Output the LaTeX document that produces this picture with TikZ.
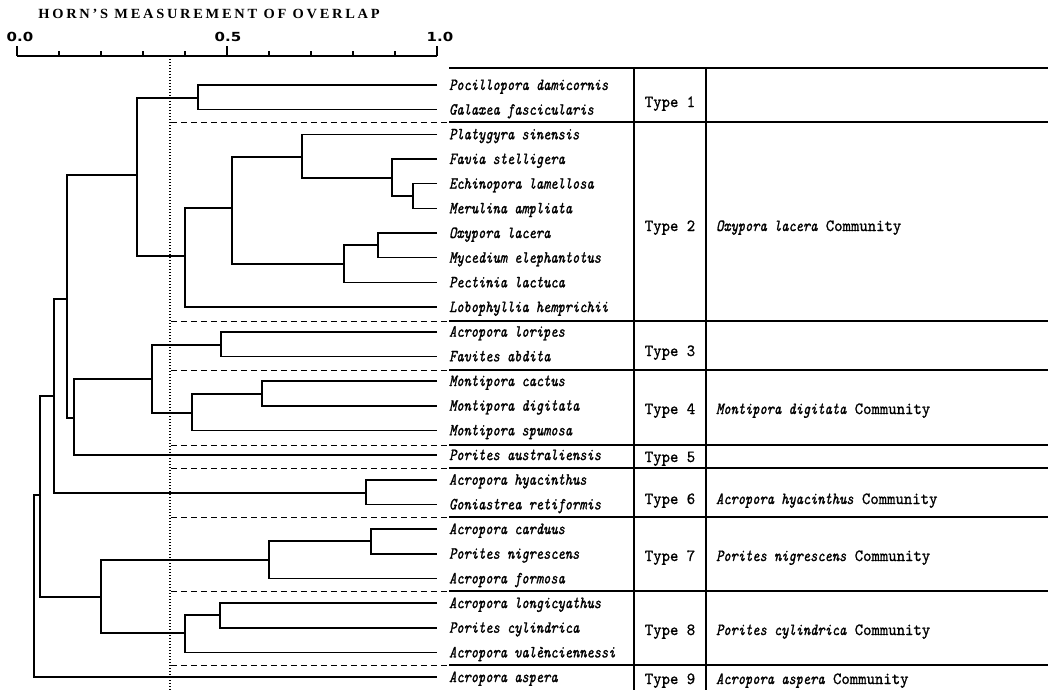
\documentclass[tikz,border=0pt]{standalone}
\usepackage{fontspec}
\newfontfamily\titlefont[LetterSpace=19]{Liberation Serif}
\newfontfamily\numfont{DejaVu Sans}
\newfontfamily\spfam[FakeStretch=0.81, FakeBold=1.2]{lmmono10-italic.otf}
\newfontfamily\lbfam[FakeStretch=0.94, FakeBold=1]{lmmono10-regular.otf}
\newcommand{\spfont}{\spfam\fontsize{17}{19}\selectfont}
\newcommand{\lbfont}{\lbfam\fontsize{17}{19}\selectfont}
\newcommand{\species}[1]{{\spfont #1}}

\begin{document}
\begin{tikzpicture}[
  x=1pt, y=-1pt,
  leaf/.style={anchor=west, inner xsep=12pt, inner ysep=0pt, text height=10.5pt, text depth=0.5pt, font=\spfont},
  typelab/.style={anchor=base, inner sep=0pt, font=\lbfont},
  commlab/.style={anchor=base west, inner sep=0pt, font=\lbfont},
  numlab/.style={anchor=base, inner sep=0pt, xscale=1.2, font=\numfont\bfseries\fontsize{12.5}{14}\selectfont},
  tree/.style={line width=1.6pt},
  axis/.style={line width=1.4pt},
  rule/.style={line width=1.5pt},
  sepline/.style={line width=1.1pt},
  sepdash/.style={line width=1pt, dash pattern=on 6pt off 4pt},
  cutline/.style={line width=1.2pt, dash pattern=on 1pt off 2pt}
]
\useasboundingbox (0,0) rectangle (1048,690);

% axis
\node[anchor=base, inner sep=0pt, xscale=1.03] (title) at (209,19) {\titlefont\bfseries\fontsize{14}{16}\selectfont HORN’S MEASUREMENT OF OVERLAP};
\coordinate (ax0) at (17,56);
\coordinate (ax1) at (437,56);
\draw[axis] (ax0) -- (ax1);
\foreach \k in {1,2,3,4,6,7,8,9}
  \draw[axis] ({17+42*\k},56) -- ++(0,-5);
\foreach \k in {0,5,10}
  \draw[axis] ({17+42*\k},56) -- ++(0,-10);
\node[numlab] (n0) at (20,42) {0.0};
\node[numlab] (n5) at (228,42) {0.5};
\node[numlab] (n10) at (440,42) {1.0};

% species
\foreach \nm/\txt [count=\i from 0] in {
  poc/Pocillopora damicornis, gal/Galaxea fascicularis, pla/Platygyra sinensis,
  fav/Favia stelligera, ech/Echinopora lamellosa, mer/Merulina ampliata,
  oxy/Oxypora lacera, myc/Mycedium elephantotus, pec/Pectinia lactuca,
  lob/Lobophyllia hemprichii, alo/Acropora loripes, fab/Favites abdita,
  mca/Montipora cactus, mdi/Montipora digitata, msp/Montipora spumosa,
  pau/Porites australiensis, ahy/Acropora hyacinthus, gre/Goniastrea retiformis,
  aca/Acropora carduus, pni/Porites nigrescens, afo/Acropora formosa,
  alg/Acropora longicyathus, pcy/Porites cylindrica, ava/Acropora valènciennessi,
  aas/Acropora aspera}
  \node[leaf] (\nm) at (437,{85+24.67*\i}) {\txt};

% merge points
\coordinate (t1) at (198,98);
\coordinate (em) at (413,196);
\coordinate (fe) at (392,178);
\coordinate (pf) at (302,157);
\coordinate (om) at (378,245);
\coordinate (op) at (344,264);
\coordinate (c2a) at (232,208);
\coordinate (t2) at (185,256);
\coordinate (c12) at (137,175);
\coordinate (t3) at (221,345);
\coordinate (cd) at (262,394);
\coordinate (t4) at (192,413);
\coordinate (c34) at (152,379);
\coordinate (c345) at (74,418);
\coordinate (c15) at (67,299);
\coordinate (t6) at (366,493);
\coordinate (c16) at (54,396);
\coordinate (ac) at (371,541);
\coordinate (t7) at (269,560);
\coordinate (al) at (220,615);
\coordinate (t8) at (185,633);
\coordinate (c78) at (101,597);
\coordinate (c18) at (40,495);
\coordinate (root) at (34,586);

\draw[tree] (poc.west) -| (t1) |- (gal.west);
\draw[tree] (ech.west) -| (em) |- (mer.west);
\draw[tree] (fav.west) -| (fe) |- (em);
\draw[tree] (pla.west) -| (pf) |- (fe);
\draw[tree] (oxy.west) -| (om) |- (myc.west);
\draw[tree] (om) -| (op) |- (pec.west);
\draw[tree] (pf) -| (c2a) |- (op);
\draw[tree] (c2a) -| (t2) |- (lob.west);
\draw[tree] (t1) -| (c12) |- (t2);
\draw[tree] (alo.west) -| (t3) |- (fab.west);
\draw[tree] (mca.west) -| (cd) |- (mdi.west);
\draw[tree] (cd) -| (t4) |- (msp.west);
\draw[tree] (t3) -| (c34) |- (t4);
\draw[tree] (c34) -| (c345) |- (pau.west);
\draw[tree] (c12) -| (c15) |- (c345);
\draw[tree] (ahy.west) -| (t6) |- (gre.west);
\draw[tree] (c15) -| (c16) |- (t6);
\draw[tree] (aca.west) -| (ac) |- (pni.west);
\draw[tree] (ac) -| (t7) |- (afo.west);
\draw[tree] (alg.west) -| (al) |- (pcy.west);
\draw[tree] (al) -| (t8) |- (ava.west);
\draw[tree] (t7) -| (c78) |- (t8);
\draw[tree] (c16) -| (c18) |- (c78);
\draw[tree] (c18) -| (root) |- (aas.west);

% cut level
\draw[cutline] (170,56) -- (170,690);

% table
\draw[rule] (449,68) -- (1048,68);
\draw[rule] (634,68) -- (634,690);
\draw[rule] (706,68) -- (706,690);
\foreach \y in {122,321,370,445,468,517,591,665} {
  \draw[sepdash] (171,\y) -- (449,\y);
  \draw[sepline] (449,\y) -- (1048,\y);
}

\node[typelab] (ty1) at (670,107) {Type 1};
\node[typelab] (ty2) at (670,231) {Type 2};
\node[typelab] (ty3) at (670,356) {Type 3};
\node[typelab] (ty4) at (670,414) {Type 4};
\node[typelab] (ty5) at (670,462) {Type 5};
\node[typelab] (ty6) at (670,504) {Type 6};
\node[typelab] (ty7) at (670,561) {Type 7};
\node[typelab] (ty8) at (670,635) {Type 8};
\node[typelab] (ty9) at (670,684) {Type 9};

\node[commlab] (cm2) at (716,231) {\species{Oxypora lacera} Community};
\node[commlab] (cm4) at (716,414) {\species{Montipora digitata} Community};
\node[commlab] (cm6) at (716,504) {\species{Acropora hyacinthus} Community};
\node[commlab] (cm7) at (716,561) {\species{Porites nigrescens} Community};
\node[commlab] (cm8) at (716,635) {\species{Porites cylindrica} Community};
\node[commlab] (cm9) at (716,684) {\species{Acropora aspera} Community};
\end{tikzpicture}
\end{document}
